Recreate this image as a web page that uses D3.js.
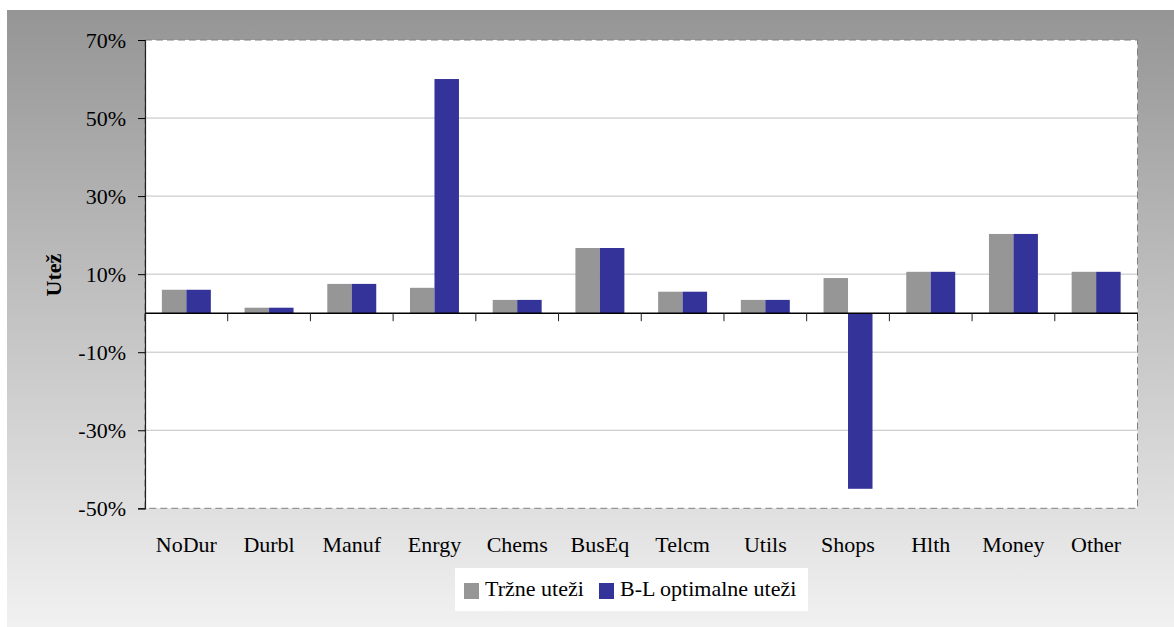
<!DOCTYPE html>
<html>
<head>
<meta charset="utf-8">
<script src="https://cdn.jsdelivr.net/npm/d3@7/dist/d3.min.js"></script>
<style>
  html, body { margin: 0; padding: 0; background: #ffffff; }
  svg { display: block; }
  text { font-family: "Liberation Serif", "Times New Roman", serif; fill: #000; }
</style>
</head>
<body>
<svg id="chart" width="1174" height="627"></svg>
<script>
// Industry portfolio weights: market weights vs. Black-Litterman optimal weights (%)
const categories = ["NoDur", "Durbl", "Manuf", "Enrgy", "Chems", "BusEq", "Telcm", "Utils", "Shops", "Hlth", "Money", "Other"];
const seriesNames = ["Tržne uteži", "B-L optimalne uteži"];
const marketWeights = [6.0, 1.4, 7.5, 6.5, 3.4, 16.7, 5.5, 3.4, 9.0, 10.6, 20.3, 10.6];
const blWeights     = [6.0, 1.4, 7.5, 60.0, 3.4, 16.7, 5.5, 3.4, -45.0, 10.6, 20.3, 10.6];
const yTicks = [70, 50, 30, 10, -10, -30, -50];
const yTitle = "Utež";

const colors = ["#969696", "#333399"];

const svg = d3.select("#chart");
const W = 1174, H = 627;

// Chart background with vertical gradient
const defs = svg.append("defs");
const grad = defs.append("linearGradient").attr("id", "bg").attr("x1", 0).attr("y1", 0).attr("x2", 0).attr("y2", 1);
grad.append("stop").attr("offset", "0%").attr("stop-color", "#959595");
grad.append("stop").attr("offset", "100%").attr("stop-color", "#f1f1f1");
svg.append("rect").attr("x", 7).attr("y", 10).attr("width", W - 7).attr("height", H - 10).attr("fill", "url(#bg)");

const plot = { left: 145, top: 40, right: 1137.5, bottom: 508.3 };

const y = d3.scaleLinear().domain([-50, 70]).range([plot.bottom, plot.top]);
const x = d3.scaleBand().domain(categories).range([plot.left, plot.right]).padding(0);
const bw = x.bandwidth();
const x1 = d3.scaleBand().domain(seriesNames).range([bw * 0.204, bw * 0.796]).padding(0);

// Plot area
svg.append("rect")
  .attr("x", plot.left).attr("y", plot.top)
  .attr("width", plot.right - plot.left).attr("height", plot.bottom - plot.top)
  .attr("fill", "#ffffff");

// Horizontal gridlines
svg.append("g").selectAll("line")
  .data(yTicks.filter(t => t !== 70 && t !== -50))
  .join("line")
  .attr("x1", plot.left).attr("x2", plot.right)
  .attr("y1", d => y(d)).attr("y2", d => y(d))
  .attr("stroke", "#c0c0c0").attr("stroke-width", 1);

// Dashed plot-area border
svg.append("rect")
  .attr("x", plot.left).attr("y", plot.top)
  .attr("width", plot.right - plot.left).attr("height", plot.bottom - plot.top)
  .attr("fill", "none").attr("stroke", "#808080").attr("stroke-width", 1)
  .attr("stroke-dasharray", "7,4");

// Bars
const rows = categories.map((c, i) => ({ cat: c, vals: [marketWeights[i], blWeights[i]] }));
const groups = svg.append("g").selectAll("g")
  .data(rows).join("g")
  .attr("transform", d => `translate(${x(d.cat)},0)`);
groups.selectAll("rect")
  .data(d => d.vals.map((v, k) => ({ name: seriesNames[k], v, k })))
  .join("rect")
  .attr("x", d => x1(d.name))
  .attr("width", x1.bandwidth())
  .attr("y", d => Math.min(y(d.v), y(0)))
  .attr("height", d => Math.abs(y(d.v) - y(0)))
  .attr("fill", d => colors[d.k]);

// Y axis
const yAxis = d3.axisLeft(y).tickValues(yTicks).tickSize(7).tickPadding(12).tickFormat(d => d + "%");
const gy = svg.append("g").attr("transform", `translate(${plot.left},0)`).call(yAxis);
gy.select(".domain").attr("stroke", "#222").attr("stroke-width", 1.2);
gy.selectAll(".tick line").attr("stroke", "#000");
gy.selectAll(".tick text")
  .attr("font-family", "Liberation Serif, Times New Roman, serif")
  .attr("font-size", 22).attr("fill", "#000");

// X axis along zero, ticks at category boundaries
svg.append("line")
  .attr("x1", plot.left).attr("x2", plot.right)
  .attr("y1", y(0)).attr("y2", y(0))
  .attr("stroke", "#000").attr("stroke-width", 1.5);
const boundaries = categories.map(c => x(c)).concat([plot.right]);
svg.append("g").selectAll("line")
  .data(boundaries).join("line")
  .attr("x1", d => d).attr("x2", d => d)
  .attr("y1", y(0)).attr("y2", y(0) + 8)
  .attr("stroke", "#222").attr("stroke-width", 1);

// Category labels below the plot
svg.append("g").selectAll("text")
  .data(categories).join("text")
  .attr("x", d => x(d) + bw / 2)
  .attr("y", 552)
  .attr("text-anchor", "middle")
  .attr("font-size", 22)
  .text(d => d);

// Y axis title
svg.append("text")
  .attr("transform", `translate(61,275) rotate(-90)`)
  .attr("text-anchor", "middle")
  .attr("font-size", 22).attr("font-weight", "bold")
  .text(yTitle);

// Legend
const legend = svg.append("g");
legend.append("rect").attr("x", 455).attr("y", 568).attr("width", 353).attr("height", 43).attr("fill", "#ffffff");
const legendItems = [
  { name: seriesNames[0], sx: 464, tx: 485, color: colors[0] },
  { name: seriesNames[1], sx: 599, tx: 620, color: colors[1] }
];
legendItems.forEach(it => {
  legend.append("rect").attr("x", it.sx).attr("y", 583).attr("width", 15).attr("height", 16).attr("fill", it.color);
  legend.append("text").attr("x", it.tx).attr("y", 596).attr("font-size", 22).text(it.name);
});
</script>
</body>
</html>
